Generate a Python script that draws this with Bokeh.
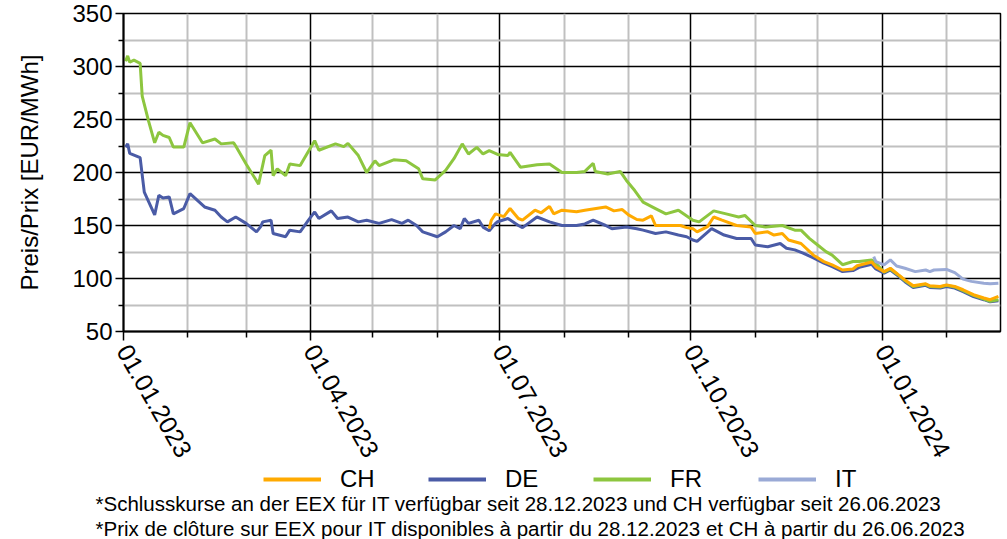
import pandas as pd
from bokeh.plotting import figure
from bokeh.layouts import column
from bokeh.models import (FixedTicker, DatetimeTickFormatter, Legend, LegendItem,
                          Title, Range1d, ColumnDataSource)
from bokeh.embed import file_html
from bokeh.resources import INLINE

# ---------------- data ----------------
fr_dates = ["2023-01-02","2023-01-03","2023-01-04","2023-01-06","2023-01-09","2023-01-10","2023-01-13",
            "2023-01-16","2023-01-18","2023-01-20","2023-01-23","2023-01-25","2023-01-30","2023-02-02",
            "2023-02-08","2023-02-14","2023-02-17","2023-02-23","2023-02-24","2023-03-01","2023-03-07",
            "2023-03-10","2023-03-13","2023-03-14","2023-03-16","2023-03-20","2023-03-22","2023-03-27",
            "2023-03-31","2023-04-03","2023-04-05","2023-04-13","2023-04-17","2023-04-19","2023-04-24",
            "2023-04-28","2023-05-02","2023-05-04","2023-05-11","2023-05-17","2023-05-23","2023-05-25",
            "2023-05-31","2023-06-05","2023-06-09","2023-06-13","2023-06-16","2023-06-20","2023-06-23",
            "2023-06-26","2023-06-30","2023-07-05","2023-07-06","2023-07-11","2023-07-19","2023-07-25",
            "2023-07-31","2023-08-07","2023-08-11","2023-08-15","2023-08-16","2023-08-22","2023-08-28",
            "2023-08-31","2023-09-04","2023-09-08","2023-09-14","2023-09-19","2023-09-25","2023-10-02",
            "2023-10-05","2023-10-12","2023-10-18","2023-10-24","2023-10-27","2023-11-01","2023-11-06",
            "2023-11-14","2023-11-20","2023-11-23","2023-11-27","2023-12-01","2023-12-05","2023-12-08",
            "2023-12-13","2023-12-18","2023-12-21","2023-12-27","2023-12-29","2024-01-02","2024-01-05",
            "2024-01-09","2024-01-12","2024-01-16","2024-01-22","2024-01-24","2024-01-29","2024-02-01",
            "2024-02-05","2024-02-09","2024-02-14","2024-02-19","2024-02-22","2024-02-26"]
fr_values = [305,310,304,306,303,272,249,
             228,238,235,233,224,224,247,
             228,231.6,227,228,225,208,189,
             216,221,197,203.5,197,208,206.5,
             220,230,221,227,224.4,227.5,216,
             200,211,206.5,212,211,203.5,194,
             193,202,213,227,217.5,223.7,217.5,
             220.6,217,216,219,205,207.4,208,
             200,200,201,208.7,201,198.5,201,
             192.5,183,172,166,161,164.4,155,
             153.4,163.8,161,158,159.5,150,148.5,
             150,145.6,145.6,137.8,131.6,125.3,122,
             113,116,116,117.5,114.4,106,109,
             103,98,92.5,94.5,92.5,92,93.5,
             92,88.5,84,80.5,78.5,80]

de_dates = ["2023-01-02","2023-01-03","2023-01-04","2023-01-09","2023-01-11","2023-01-16","2023-01-18",
            "2023-01-20","2023-01-23","2023-01-25","2023-01-30","2023-02-02","2023-02-09","2023-02-14",
            "2023-02-17","2023-02-20","2023-02-24","2023-03-01","2023-03-06","2023-03-08","2023-03-09",
            "2023-03-13","2023-03-14","2023-03-20","2023-03-22","2023-03-27","2023-03-31","2023-04-03",
            "2023-04-05","2023-04-11","2023-04-14","2023-04-19","2023-04-24","2023-04-28","2023-05-04",
            "2023-05-10","2023-05-15","2023-05-18","2023-05-22","2023-05-25","2023-06-01","2023-06-05",
            "2023-06-09","2023-06-12","2023-06-14","2023-06-16","2023-06-21","2023-06-23","2023-06-26",
            "2023-06-29","2023-06-30","2023-07-05","2023-07-10","2023-07-12","2023-07-19","2023-07-25",
            "2023-07-31","2023-08-07","2023-08-11","2023-08-15","2023-08-21","2023-08-24","2023-08-31",
            "2023-09-05","2023-09-08","2023-09-14","2023-09-19","2023-09-25","2023-09-29","2023-10-02",
            "2023-10-04","2023-10-11","2023-10-17","2023-10-23","2023-10-30","2023-11-01","2023-11-07",
            "2023-11-13","2023-11-16","2023-11-20","2023-11-24","2023-11-29","2023-12-04","2023-12-08",
            "2023-12-13","2023-12-18","2023-12-21","2023-12-27","2023-12-29","2024-01-02","2024-01-05",
            "2024-01-09","2024-01-12","2024-01-16","2024-01-22","2024-01-24","2024-01-29","2024-02-01",
            "2024-02-05","2024-02-09","2024-02-14","2024-02-19","2024-02-22","2024-02-26"]
de_values = [224,227,218,214,181.5,160,178.5,
             176,177,161,166,180,167.5,164.4,
             158,153.4,158,152,144,149,153.4,
             155,142.5,139.4,145.6,144,155,162.8,
             156.6,163.8,156.6,158,153.4,155,152,
             155.6,152,155,150,144,139.4,144,
             150,147,156.6,152,155,148.5,145,
             152,153.5,156.6,150,148,158,153.4,
             150,150,151.5,155,150,147,148.5,
             147,145.6,142.5,144,141,139.4,136.3,
             135,147,141,137.8,137.8,131.6,130,
             133,128.5,127,124,119.4,114.4,111.2,
             106.5,107.5,110.5,113.5,109,105,108,
             102,97,91.5,93.5,91.5,91,92.5,
             91,87.5,83,80,78,79]

ch_dates = ["2023-06-26","2023-06-27","2023-06-29","2023-07-03","2023-07-06","2023-07-10","2023-07-12",
            "2023-07-18","2023-07-21","2023-07-25","2023-07-27","2023-07-31","2023-08-07","2023-08-11",
            "2023-08-21","2023-08-25","2023-08-29","2023-09-01","2023-09-05","2023-09-08","2023-09-12",
            "2023-09-14","2023-09-20","2023-09-26","2023-09-29","2023-10-02","2023-10-04","2023-10-09",
            "2023-10-12","2023-10-16","2023-10-23","2023-10-30","2023-11-01","2023-11-07","2023-11-10",
            "2023-11-14","2023-11-17","2023-11-23","2023-11-29","2023-12-04","2023-12-08","2023-12-13",
            "2023-12-18","2023-12-20","2023-12-27","2023-12-29","2024-01-02","2024-01-05","2024-01-09",
            "2024-01-12","2024-01-16","2024-01-22","2024-01-24","2024-01-29","2024-02-01","2024-02-05",
            "2024-02-09","2024-02-14","2024-02-19","2024-02-22","2024-02-26"]
ch_values = [147,155,161,158.4,166,156.6,155,
             164.4,162,168,161,164.4,163,164.4,
             167.5,163.8,165,160,155.6,155,159,
             150,150,150,148,147,144,149,
             158,155,150,148.5,142.5,144,141,
             142.5,136.3,133,122,115.9,112.8,108,
             109,112,115.5,111,106.5,109.7,103.4,
             98.7,93.1,95,93.1,92.5,94,92.5,
             89.4,84.7,81.6,80,83.2]

it_dates = ["2023-12-28","2023-12-29","2024-01-02","2024-01-05","2024-01-08","2024-01-12","2024-01-17",
            "2024-01-22","2024-01-24","2024-01-26","2024-02-01","2024-02-05","2024-02-09","2024-02-13",
            "2024-02-19","2024-02-22","2024-02-26"]
it_values = [120.6,116,112.8,117.5,111.8,109.7,106.5,
             108,106.5,108,108.6,105.5,99.4,97.3,
             95.6,95,95.6]

quarter_ticks = ["2023-01-01","2023-04-01","2023-07-01","2023-10-01","2024-01-01"]
month_ticks = ["2023-02-01","2023-03-01","2023-05-01","2023-06-01","2023-08-01","2023-09-01",
               "2023-11-01","2023-12-01","2024-02-01"]
y_ticks = [50,100,150,200,250,300,350]
y_minor_ticks = [75,125,175,225,275,325]

series_names = ["CH","DE","FR","IT"]
series_colors = {"CH":"#FFAA00","DE":"#4A5BA6","FR":"#8DC63F","IT":"#9AAAD6"}

y_label = "Preis/Prix [EUR/MWh]"
note_de = "*Schlusskurse an der EEX für IT verfügbar seit 28.12.2023 und CH verfügbar seit 26.06.2023"
note_fr = "*Prix de clôture sur EEX pour IT disponibles à partir du 28.12.2023 et CH à partir du 26.06.2023"

# ---------------- main chart ----------------
FONT = "Liberation Sans"
W = 1003
H1 = 468
H2 = 71

def ms(d):
    return pd.Timestamp(d).timestamp() * 1000.0

p = figure(width=W, height=H1, x_axis_type="datetime", output_backend="svg",
           toolbar_location=None,
           x_range=Range1d(pd.Timestamp("2023-01-01"), pd.Timestamp("2024-02-27")),
           y_range=Range1d(50, 350),
           min_border_top=13, min_border_right=3, min_border_left=123,
           min_border_bottom=137)
p.background_fill_color = "white"
p.border_fill_color = "white"
p.outline_line_color = "black"
p.outline_line_width = 1.5

sources = {
    "CH": ColumnDataSource(dict(x=pd.to_datetime(ch_dates), y=ch_values)),
    "DE": ColumnDataSource(dict(x=pd.to_datetime(de_dates), y=de_values)),
    "FR": ColumnDataSource(dict(x=pd.to_datetime(fr_dates), y=fr_values)),
    "IT": ColumnDataSource(dict(x=pd.to_datetime(it_dates), y=it_values)),
}
for name in ["DE", "FR", "CH", "IT"]:
    p.line("x", "y", source=sources[name], line_width=3, line_color=series_colors[name])

# x axis
xt = FixedTicker(ticks=[ms(d) for d in quarter_ticks], minor_ticks=[ms(d) for d in month_ticks])
p.xaxis.ticker = xt
fmt = "%d.%m.%Y"
p.xaxis.formatter = DatetimeTickFormatter(microseconds=fmt, milliseconds=fmt, seconds=fmt,
                                          minsec=fmt, minutes=fmt, hourmin=fmt, hours=fmt,
                                          days=fmt, months=fmt, years=fmt)
p.xaxis.major_label_orientation = -1.05
p.xaxis.major_label_text_font = FONT
p.xaxis.major_label_text_font_size = "25px"
p.xaxis.major_label_text_color = "black"
p.xaxis.major_label_standoff = 6
p.xaxis.axis_line_color = "black"
p.xaxis.axis_line_width = 2
p.xaxis.major_tick_line_color = "black"
p.xaxis.major_tick_line_width = 1.5
p.xaxis.major_tick_out = 9
p.xaxis.major_tick_in = 0
p.xaxis.minor_tick_line_color = "black"
p.xaxis.minor_tick_line_width = 1.5
p.xaxis.minor_tick_out = 6
p.xaxis.minor_tick_in = 0

# y axis
yt = FixedTicker(ticks=y_ticks, minor_ticks=y_minor_ticks)
p.yaxis.ticker = yt
p.yaxis.axis_label = y_label
p.yaxis.axis_label_text_font = FONT
p.yaxis.axis_label_text_font_size = "24px"
p.yaxis.axis_label_text_font_style = "normal"
p.yaxis.axis_label_text_color = "black"
p.yaxis.axis_label_standoff = 26
p.yaxis.major_label_text_font = FONT
p.yaxis.major_label_text_font_size = "24px"
p.yaxis.major_label_text_color = "black"
p.yaxis.major_label_standoff = 3
p.yaxis.axis_line_color = "black"
p.yaxis.axis_line_width = 2
p.yaxis.major_tick_line_color = "black"
p.yaxis.major_tick_line_width = 1.5
p.yaxis.major_tick_out = 8
p.yaxis.major_tick_in = 0
p.yaxis.minor_tick_line_color = "black"
p.yaxis.minor_tick_line_width = 1.5
p.yaxis.minor_tick_out = 5
p.yaxis.minor_tick_in = 0

# grids
for g in (p.xgrid, p.ygrid):
    g.grid_line_color = "black"
    g.grid_line_width = 1.5
    g.minor_grid_line_color = "#C0C0C0"
    g.minor_grid_line_width = 2
p.xgrid.ticker = xt
p.ygrid.ticker = yt

# ---------------- legend + footnotes strip ----------------
q = figure(width=W, height=H2, output_backend="svg", toolbar_location=None,
           x_range=Range1d(0, 1), y_range=Range1d(0, 1),
           x_axis_location=None, y_axis_location=None,
           min_border=0, min_border_left=0, min_border_right=0,
           min_border_top=0, min_border_bottom=0)
q.grid.visible = False
q.outline_line_color = None
q.background_fill_color = "white"
q.border_fill_color = "white"

nan = float("nan")
keys = [q.line(x=[nan], y=[nan], line_width=4, line_color=series_colors[n]) for n in series_names]
legend = Legend(items=[LegendItem(label=n, renderers=[r]) for n, r in zip(series_names, keys)],
                orientation="horizontal", location="center_left",
                glyph_width=58, glyph_height=16, label_height=16, label_standoff=19, spacing=36,
                label_width=52, label_text_font=FONT, label_text_font_size="24px",
                label_text_color="black",
                border_line_color=None, background_fill_color=None, background_fill_alpha=0,
                padding=0, margin=140)
q.add_layout(legend, "center")

t1 = Title(text=note_de, align="left", offset=-28, standoff=0, text_font=FONT,
           text_font_size="20.5px", text_font_style="normal", text_color="black")
t2 = Title(text=note_fr, align="left", offset=-28, standoff=0, text_font=FONT,
           text_font_size="20.5px", text_font_style="normal", text_color="black")
q.add_layout(t1, "below")
q.add_layout(t2, "below")

layout = column(p, q, spacing=0)
open("out.html", "w").write(file_html(layout, INLINE))
